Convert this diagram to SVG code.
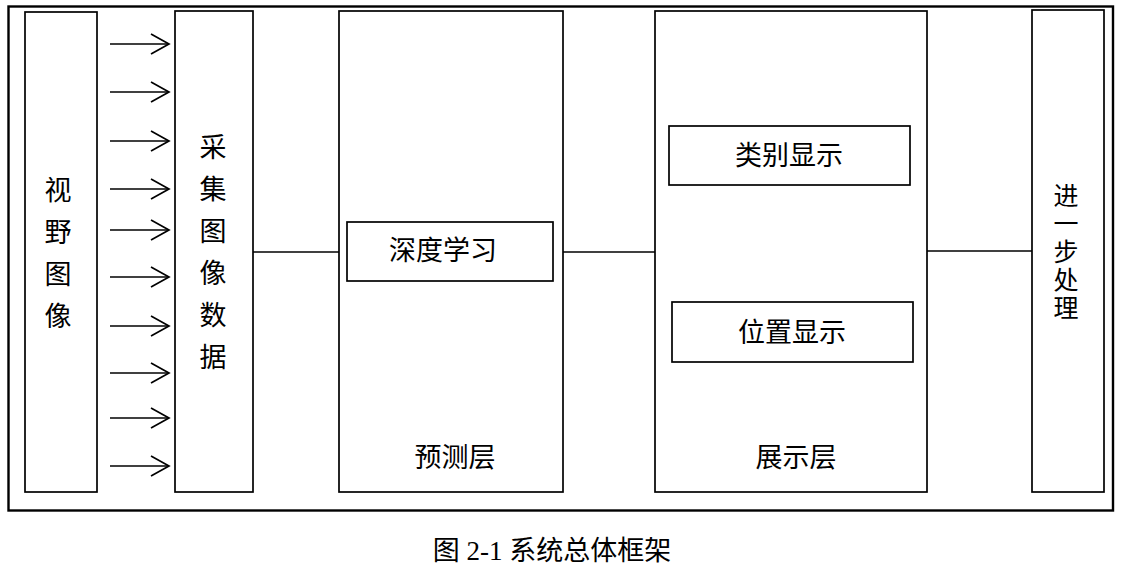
<svg xmlns="http://www.w3.org/2000/svg" width="1124" height="572" viewBox="0 0 1124 572">
<style>
.box{fill:#fff;stroke:#000;stroke-width:1.7}
.frame{fill:none;stroke:#000;stroke-width:2.4}
.t{font-family:"Liberation Serif","Noto Sans CJK SC",serif;font-size:27px;fill:#000;text-anchor:middle}
.tv{font-size:25px}
.ln{stroke:#000;stroke-width:1.7;fill:none}
.ar{stroke:#000;stroke-width:1.7;fill:none;marker-end:url(#ah)}
</style>
<defs>
<marker id="ah" markerUnits="userSpaceOnUse" markerWidth="24" markerHeight="26" refX="20" refY="12" orient="auto">
<path d="M2,2 L20,12 L2,22" fill="none" stroke="#000" stroke-width="1.7"/>
</marker>
</defs>
<rect width="1124" height="572" fill="#fff"/>
<rect class="frame" x="8.5" y="6.5" width="1104.5" height="504"/>
<g id="n-view">
<rect class="box" x="25" y="12" width="72" height="480"/>
<text class="t"><tspan x="58" y="200">视</tspan><tspan x="58" y="242">野</tspan><tspan x="58" y="284">图</tspan><tspan x="58" y="326">像</tspan></text>
</g>
<g id="n-collect">
<rect class="box" x="175" y="11" width="78" height="481"/>
<text class="t"><tspan x="213" y="157">采</tspan><tspan x="213" y="199">集</tspan><tspan x="213" y="241">图</tspan><tspan x="213" y="283">像</tspan><tspan x="213" y="325">数</tspan><tspan x="213" y="367">据</tspan></text>
</g>
<g id="n-predict">
<rect class="box" x="339" y="11" width="224" height="481"/>
<text class="t" x="455" y="467">预测层</text>
</g>
<g id="n-deep">
<rect class="box" x="347" y="222" width="206" height="59"/>
<text class="t" x="443" y="260">深度学习</text>
</g>
<g id="n-show">
<rect class="box" x="655" y="11" width="272" height="481"/>
<text class="t" x="796" y="467">展示层</text>
</g>
<g id="n-class">
<rect class="box" x="669" y="126" width="241" height="59"/>
<text class="t" x="789" y="165">类别显示</text>
</g>
<g id="n-pos">
<rect class="box" x="672" y="302" width="241" height="60"/>
<text class="t" x="792" y="342">位置显示</text>
</g>
<g id="n-next">
<rect class="box" x="1032" y="10" width="72" height="482"/>
<text class="t tv"><tspan x="1066" y="205">进</tspan><tspan x="1066" y="233">一</tspan><tspan x="1066" y="261">步</tspan><tspan x="1066" y="289">处</tspan><tspan x="1066" y="317">理</tspan></text>
</g>
<g id="connectors">
<line class="ar" x1="110" y1="44" x2="169" y2="44"/>
<line class="ar" x1="110" y1="92" x2="169" y2="92"/>
<line class="ar" x1="110" y1="141" x2="169" y2="141"/>
<line class="ar" x1="110" y1="189" x2="169" y2="189"/>
<line class="ar" x1="110" y1="230" x2="169" y2="230"/>
<line class="ar" x1="110" y1="277" x2="169" y2="277"/>
<line class="ar" x1="110" y1="326" x2="169" y2="326"/>
<line class="ar" x1="110" y1="373" x2="169" y2="373"/>
<line class="ar" x1="110" y1="418" x2="169" y2="418"/>
<line class="ar" x1="110" y1="466" x2="169" y2="466"/>
<line class="ln" x1="253" y1="252" x2="339" y2="252"/>
<line class="ln" x1="563" y1="252" x2="655" y2="252"/>
<line class="ln" x1="927" y1="251" x2="1032" y2="251"/>
</g>
<text class="t" x="552" y="560">图 2-1 系统总体框架</text>
</svg>
